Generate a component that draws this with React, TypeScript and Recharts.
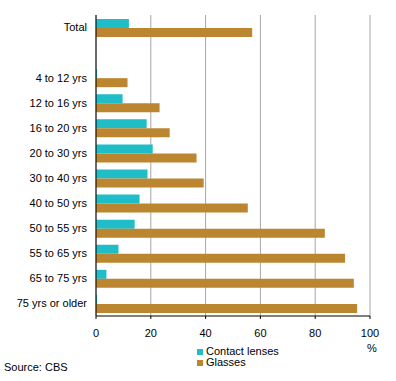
import React from 'react';
import { BarChart, Bar, XAxis, YAxis, CartesianGrid, Legend } from 'recharts';

const categories = ['Total', ' ', '4 to 12 yrs', '12 to 16 yrs', '16 to 20 yrs', '20 to 30 yrs', '30 to 40 yrs', '40 to 50 yrs', '50 to 55 yrs', '55 to 65 yrs', '65 to 75 yrs', '75 yrs or older'];
const contactLenses = [12, null, 0.4, 9.7, 18.5, 20.7, 18.8, 15.9, 14.1, 8.2, 3.8, 0.4];
const glasses = [57, null, 11.5, 23.2, 26.9, 36.7, 39.3, 55.4, 83.5, 90.9, 94.1, 95.3];
const xTicks = [0, 20, 40, 60, 80, 100];

const data = categories.map((c, i) => ({ cat: c, contact: contactLenses[i], glasses: glasses[i] }));

const FONT = 'Arial, "Liberation Sans", sans-serif';
const TEAL = '#1EBDC8';
const BROWN = '#BC8631';

const renderLegend = (props: any) => {
  const { payload } = props;
  return (
    <div style={{ fontFamily: FONT, fontSize: 11, color: '#000', lineHeight: '11px', height: 22 }}>
      {(payload || []).map((p: any) => (
        <div key={p.value} style={{ display: 'flex', alignItems: 'center', height: 11 }}>
          <span style={{ display: 'inline-block', width: 6, height: 6, background: p.color, marginRight: 3 }} />
          <span>{p.value}</span>
        </div>
      ))}
    </div>
  );
};

export default function App() {
  return (
    <div style={{ position: 'absolute', left: 0, top: 0, width: 396, height: 381, background: '#fff' }}>
      <BarChart
        width={396}
        height={381}
        data={data}
        layout="vertical"
        margin={{ top: 15, right: 26, bottom: 13, left: 0 }}
        barSize={9}
        barGap={0}
      >
        <CartesianGrid horizontal={false} vertical stroke="#A6A6A6" strokeWidth={1} />
        <XAxis
          type="number"
          domain={[0, 100]}
          ticks={xTicks}
          height={30}
          tickSize={3}
          tickMargin={10}
          interval={0}
          axisLine={{ stroke: '#000' }}
          tickLine={{ stroke: '#000' }}
          tick={{ fill: '#000', fontSize: 11, fontFamily: FONT }}
        />
        <XAxis
          xAxisId="t"
          orientation="top"
          type="number"
          domain={[0, 100]}
          height={0}
          tick={false}
          tickLine={false}
          axisLine={{ stroke: '#808080' }}
        />
        <YAxis
          type="category"
          dataKey="cat"
          width={96}
          tickSize={0}
          tickMargin={9}
          interval={0}
          axisLine={{ stroke: '#000' }}
          tickLine={false}
          tick={{ fill: '#000', fontSize: 11, fontFamily: FONT }}
        />
        <YAxis
          yAxisId="r"
          orientation="right"
          type="category"
          dataKey="cat"
          width={0}
          tick={false}
          tickLine={false}
          axisLine={{ stroke: '#808080' }}
        />
        <Bar dataKey="contact" name="Contact lenses" fill={TEAL} isAnimationActive={false} />
        <Bar dataKey="glasses" name="Glasses" fill={BROWN} isAnimationActive={false} />
        <Legend
          content={renderLegend}
          layout="horizontal"
          verticalAlign="bottom"
          align="left"
          wrapperStyle={{ position: 'absolute', left: 197, top: 346, width: 120, height: 22 }}
        />
      </BarChart>
      <div style={{ position: 'absolute', left: 367, top: 342, fontFamily: FONT, fontSize: 11, color: '#000' }}>%</div>
      <div style={{ position: 'absolute', left: 4, top: 361, fontFamily: FONT, fontSize: 11, color: '#000' }}>Source: CBS</div>
    </div>
  );
}
